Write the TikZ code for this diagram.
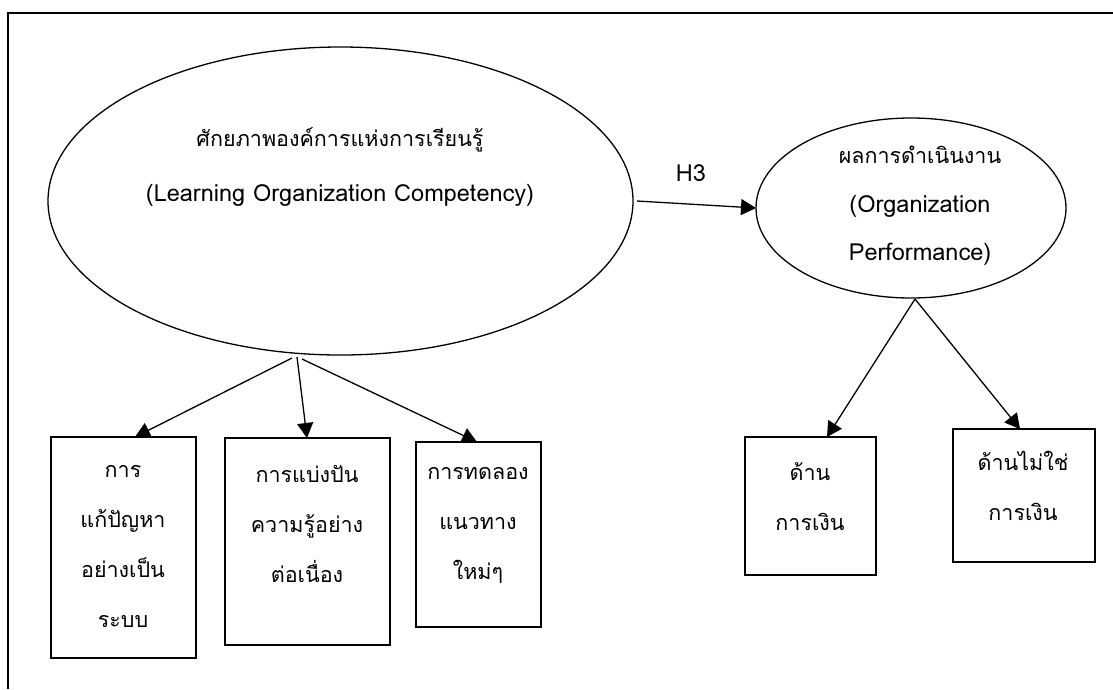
\documentclass[tikz,border=0pt]{standalone}
\usepackage{fontspec}
\setmainfont[Script=Thai]{Loma}
\usetikzlibrary{shapes.geometric,arrows.meta}
\newcommand\latn[1]{{\fontsize{23.5}{50}\selectfont #1}}
\begin{document}
\begin{tikzpicture}[x=1pt,y=-1pt,
  every node/.style={inner sep=0pt, outer sep=0pt},
  lbl/.style={font=\fontsize{21.5}{50}\selectfont, align=center},
  ell/.style={draw, ellipse, line width=1.3pt},
  bx/.style={draw, rectangle, line width=1.5pt},
  arr/.style={line width=1.3pt, -{Triangle[length=15pt,width=16pt]}}]
\useasboundingbox (0,0) rectangle (1113,689);
% frame
\draw[line width=1.5pt] (1113,13) -- (8,13) -- (8,689);
% ellipses
\node[ell, minimum width=585pt, minimum height=308pt] (big) at (340.5,201) {};
\node[lbl, font=\fontsize{21.5}{55}\selectfont] (bigt) at (340,167) {ศักยภาพองค์การแห่งการเรียนรู้\\\latn{(Learning Organization Competency)}};
\node[ell, minimum width=310pt, minimum height=180pt] (small) at (911,208) {};
\node[lbl, font=\fontsize{21.5}{48.5}\selectfont] (smallt) at (920,206) {ผลการดำเนินงาน\\\latn{(Organization}\\\latn{Performance)}};
% boxes
\node[bx, minimum width=145pt, minimum height=221pt] (box1) at (123.5,547.5) {};
\node[bx, minimum width=165pt, minimum height=207pt] (box2) at (307.5,541.5) {};
\node[bx, minimum width=125pt, minimum height=185pt] (box3) at (478.5,534.5) {};
\node[bx, minimum width=131pt, minimum height=138pt] (box4) at (810.5,506) {};
\node[bx, minimum width=142pt, minimum height=133pt] (box5) at (1024,495.5) {};
\node[lbl] (t1) at (123,547) {การ\\แก้ปัญหา\\อย่างเป็น\\ระบบ};
\node[lbl] (t2) at (307,524) {การแบ่งปัน\\ความรู้อย่าง\\ต่อเนื่อง};
\node[lbl] (t3) at (478,525) {การทดลอง\\แนวทาง\\ใหม่ๆ};
\node[lbl] (t4) at (810,497) {ด้าน\\การเงิน};
\node[lbl] (t5) at (1023,486) {ด้านไม่ใช่\\การเงิน};
% connector points
\coordinate (s1) at (292,358);
\coordinate (s2) at (297,357);
\coordinate (s3) at (302,359);
\coordinate (e1) at (135,437);
\coordinate (e2) at (307,438);
\coordinate (e3) at (477,442);
\coordinate (s4) at (915,299);
\coordinate (e4) at (827,437);
\coordinate (e5) at (1020,429);
\coordinate (hs) at (637,201);
\draw[arr] (s1) -- (e1);
\draw[arr] (s2) -- (e2);
\draw[arr] (s3) -- (e3);
\draw[arr] (s4) -- (e4);
\draw[arr] (s4) -- (e5);
\draw[arr] (hs) -- (small.west);
\node[lbl] (h3) at (691,173) {\latn{H3}};
\end{tikzpicture}
\end{document}
